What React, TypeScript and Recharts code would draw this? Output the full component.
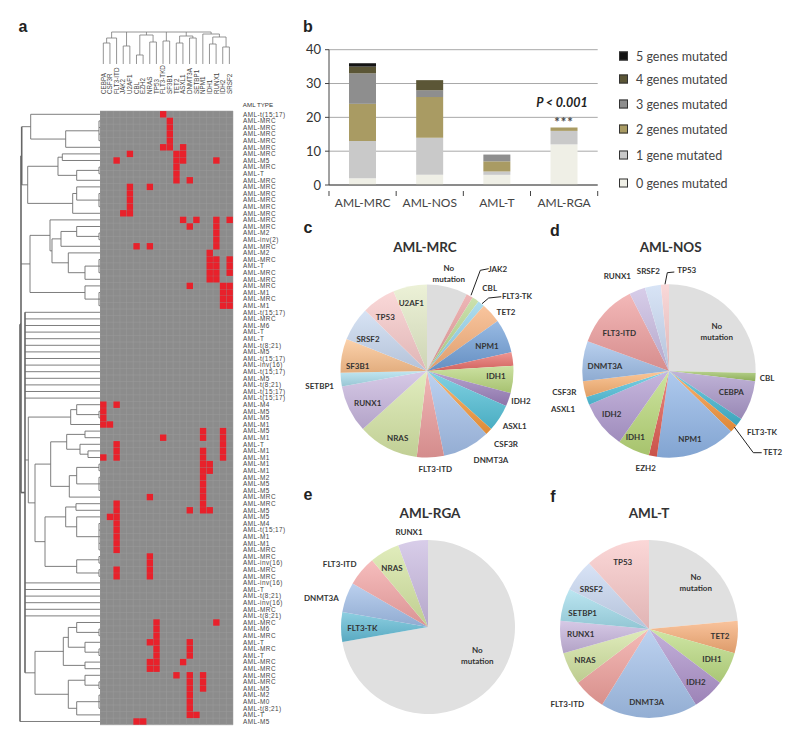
import React from 'react';
import { ScatterChart, Scatter, XAxis, YAxis, ReferenceArea, ReferenceLine, BarChart, Bar, CartesianGrid, Legend, PieChart, Pie, Cell } from 'recharts';

// ---------- panel a data ----------
const genes = ['CEBPA','CSF3R','FLT3-ITD','JAK2','U2AF1','CBL','EZH2','NRAS','TP53','FLT3-TKD','SF3B1','TET2','ASXL1','DNMT3A','SETBP1','NPM1','IDH1','RUNX1','IDH2','SRSF2'];
const mutatedRows = [
  [44,45,46,47,52],
  [47,61],
  [7,44,50,51,52,59,60,61,62,63,64,65,66,69,70],
  [15],
  [6,11,12,13,14,15],
  [20,92],
  [92],
  [11,20,58,67,68,69,70,80,83,84],
  [77,78,79,80,81,82,83,84],
  [0,5,49],
  [1,2,3,4,5],
  [6,7,8,9,10,85],
  [5,6,7,16,83],
  [10,17,26,60,80,81,82,85,86,87,88,89,90,91],
  [16,91],
  [48,49,51,52,53,54,55,56,57,58,59,60,85,86,87],
  [21,22,23,24,25,53,54,60],
  [7,16,17,18,19,20,22,23,24,25,77],
  [26,27,28,29,48,49,50,51,52],
  [16,22,23,24,26,27,28,29],
];
const rowTypes = ['t(15;17)','MRC','MRC','MRC','MRC','MRC','MRC','M5','MRC','T','MRC','MRC','MRC','MRC','MRC','MRC','MRC','MRC','M2','inv(2)','MRC','M2','MRC','T','MRC','MRC','MRC','M1','MRC','M1','t(15;17)','MRC','M6','T','T','t(8;21)','M5','t(15;17)','inv(16)','t(15;17)','M5','t(8;21)','t(15;17)','t(15;17)','M4','M5','M5','M1','M5','M1','T','M1','M1','M1','M1','M2','M5','M5','MRC','MRC','M5','M5','M4','t(15;17)','M1','M1','MRC','MRC','inv(16)','MRC','MRC','inv(16)','T','t(8;21)','inv(16)','MRC','t(8;21)','MRC','M6','MRC','T','MRC','T','MRC','MRC','MRC','MRC','M5','M2','M0','t(8;21)','T','M5'];

// Dendrograms: [merge height, ...children]; a bare number is a leaf index.
const leftAB = [21.7, [30.7, 0, [65.7, [99,1,2,3,4], 5]], [27.7, [58,[62.3,6,7],[76.7,[99,8,9],10]], [72.7,[76.7,11,[99,12,13,14]],15]]];
const leftC = [30, [50, 16, [52, [61,[76.7,17,[99,18,19]],20], [68.3,21,[85,[99,22,23,24],25]]]], [85,26,[99,27,28,29]]];
const leftD = [28.3, [70.7,[76.7,44,[99,45,46]],47], [35,[50.7,[66.7,[85,48,49],[80,50,[88,51,52]]],[69.3,[76.7,[99,53,54],[99,55,56,57]],58]],[45,[65.7,[76,59,60],[76.7,61,[99,62,63,64,65,66]]],[76.7,[99,67,68],[99,69,70]]]]];
const leftE = [35,[63.3,[68.3,[76.7,77,[99,78,79]],[85,80,[99,81,82]]],[85,83,84]],[68.3,[85,85,[99,86,87]],[76.7,[99,88,89,90],91]]];
const leftP = [25,30,31,32,33,34,35,36,37,38,39,40,41,42,43,leftD,71,72,73,74,75,76,leftE];
const leftTree = [20, [21, leftAB, leftC, leftP], 92];
const topTree = [32, [26,[21,0,1],2], [18,3,4], [29,[9,5,6],[22,7,8]], [23,9,10], [28,[21,11,12],[26,13,14]], [30,15,[27,[20,16,17],[17,18,19]]]];

function treeSegments(root: any, leafHeight: number) {
  const segs: any[] = [];
  const walk = (n: any): { pos: number; h: number } => {
    if (typeof n === 'number') return { pos: n + 0.5, h: leafHeight };
    const h = n[0];
    const kids = n.slice(1).map(walk);
    kids.forEach((k: any) => segs.push({ h1: h, p1: k.pos, h2: k.h, p2: k.pos }));
    const a = kids[0].pos, b = kids[kids.length - 1].pos;
    segs.push({ h1: h, p1: a, h2: h, p2: b });
    return { pos: (a + b) / 2, h };
  };
  walk(root);
  return segs;
}
const leftSegs = treeSegments(leftTree, 100);
const topSegs = treeSegments(topTree, 0);

const cells = mutatedRows.flatMap((rows, c) => rows.map((r) => ({ x: c + 0.5, y: r + 0.5, gene: genes[c] })));
const colTicks = genes.map((_, i) => i + 0.5);
const rowTicks = rowTypes.map((_, i) => i + 0.5);
const colEdges = Array.from({ length: genes.length + 1 }, (_, i) => i);
const rowEdges = Array.from({ length: rowTypes.length + 1 }, (_, i) => i);

// ---------- panel b data ----------
const barCategories = ['AML-MRC','AML-NOS','AML-T','AML-RGA'];
const genes0 = [2,3,3,12];
const genes1 = [11,11,1,4];
const genes2 = [11,12,3,1];
const genes3 = [9,2,2,0];
const genes4 = [2,3,0,0];
const genes5 = [1,0,0,0];
const barData = barCategories.map((name, i) => ({ name, g0: genes0[i], g1: genes1[i], g2: genes2[i], g3: genes3[i], g4: genes4[i], g5: genes5[i] }));
const stackNames = ['0 genes mutated','1 gene mutated','2 genes mutated','3 genes mutated','4 genes mutated','5 genes mutated'];
const stackColors = ['#efefe6','#c9c9c9','#a99b63','#8e8e8e','#5b5636','#141414'];
const legendTops = [56,79,104,129,155,183];

// ---------- pies ----------
const mrcNames = ['No\nmutation','JAK2','CBL','FLT3-TK','TET2','NPM1','EZH2','IDH1','IDH2','ASXL1','CSF3R','DNMT3A','FLT3-ITD','NRAS','RUNX1','SETBP1','SF3B1','SRSF2','TP53','U2AF1'];
const mrcValues = [6,1,1,1,3,5,2,4,2,4,1,7,4,9,7,2,5,5,5,5];
const nosNames = ['No\nmutation','CBL','CEBPA','FLT3-TK','TET2','NPM1','EZH2','IDH1','IDH2','ASXL1','CSF3R','DNMT3A','FLT3-ITD','RUNX1','SRSF2','TP53'];
const nosValues = [17,1,5,1,1,10,1,4,6,1,2,5,8,2,2,1];
const rgaNames = ['No\nmutation','FLT3-TK','DNMT3A','FLT3-ITD','NRAS','RUNX1'];
const rgaValues = [13,1,1,1,1,1];
const tNames = ['No\nmutation','TET2','IDH1','IDH2','DNMT3A','FLT3-ITD','NRAS','RUNX1','SETBP1','SRSF2','TP53'];
const tValues = [4,1,1,1,3,1,1,1,1,1,2];

const mrcColors = ['#dddddd','#e79b9b','#b7d68d','#8fd0e8','#f6ae78','#709fd8','#e86d68','#b8d67c','#9b80bc','#52c0d8','#f79a3c','#a4c0ea','#eb9b9b','#d6e6a6','#c7b5de','#a9dcec','#fbc08c','#c8d8f0','#f8c9c9','#e4ecc8'];
const nosColors = ['#dfdfdf','#9cc062','#a997c9','#42b6d0','#f7963c','#90b6e8','#e05b51','#b9d979','#b19bd1','#52c1dc','#f9b171','#9ebee8','#ee9d9d','#c8b9e0','#c9d9f2','#f7c9c9'];
const rgaColors = ['#e0e0e0','#62bcd6','#a0bee8','#f2a3a3','#d4e5a0','#c9b9e0'];
const tColors = ['#e0e0e0','#f6ac76','#bcdc82','#ad92cb','#a3c1ea','#f0a09c','#d2e3a0','#c6b4dc','#a2dcec','#c9d8f2','#f9c8c8'];

// Label placement relative to each pie's centre, in pixels.
const mrcLabelOffsets: any = { 'No\nmutation':[21.7,-98], JAK2:[70.7,-102], CBL:[62.7,-83], 'FLT3-TK':[90,-75], TET2:[79,-58.7], NPM1:[60,-24.7], IDH1:[69,5.3], IDH2:[94,30.3], ASXL1:[87.7,55], CSF3R:[79,72.7], DNMT3A:[64,88.7], 'FLT3-ITD':[8.3,98.3], NRAS:[-29.3,67], RUNX1:[-59.3,31.7], SETBP1:[-107.3,15], SF3B1:[-69.3,-5.3], SRSF2:[-59,-31.7], TP53:[-41.7,-54.3], U2AF1:[-15.7,-67.7] };
const mrcLeaders: any = { JAK2:[[44,-75.7],[53.3,-100.7],[61.7,-102.3]], 'FLT3-TK':[[55,-67.3],[61.7,-73],[74.3,-74.3]] };
const nosLabelOffsets: any = { 'No\nmutation':[47.7,-39.7], CBL:[98,7.3], CEBPA:[62.3,21], 'FLT3-TK':[93,61], TET2:[103.7,81], NPM1:[21,67.7], EZH2:[-23.3,97], IDH1:[-33.7,66], IDH2:[-57.3,43.3], ASXL1:[-106,38.3], CSF3R:[-104.7,21], DNMT3A:[-64,-5], 'FLT3-ITD':[-49.7,-38.3], RUNX1:[-51.7,-94.7], SRSF2:[-20.7,-99.7], TP53:[17.7,-100.7] };
const nosLeaders: any = { TP53:[[-4,-86.7],[-1.7,-98.3],[5.3,-99]], TET2:[[65.3,56],[84.3,81.7],[92.7,81.7]] };
const rgaLabelOffsets: any = { 'No\nmutation':[49.3,28], 'FLT3-TK':[-65.7,1], DNMT3A:[-106.7,-29.3], 'FLT3-ITD':[-88.3,-62.7], NRAS:[-36,-58.7], RUNX1:[-19,-95] };
const tLabelOffsets: any = { 'No\nmutation':[46.7,-46.3], TET2:[71,6.7], IDH1:[63,30.3], IDH2:[47,53.3], DNMT3A:[-2.3,73], 'FLT3-ITD':[-81.7,75], NRAS:[-64,30.7], RUNX1:[-68.3,5.3], SETBP1:[-66.3,-15.7], SRSF2:[-57.7,-40], TP53:[-26.3,-67.3] };

const CALIBRI = 'Lato, "Open Sans", sans-serif';
const ARIAL = '"Liberation Sans", Arial, sans-serif';

const mix = (hex: string, target: number, t: number) => {
  const v = [1, 3, 5].map((i) => parseInt(hex.slice(i, i + 2), 16));
  return 'rgb(' + v.map((c) => Math.round(c + (target - c) * t)).join(',') + ')';
};

function SliceGradients({ prefix, colors }: any) {
  return (
    <svg width={0} height={0} style={{ position: 'absolute' }}>
      <defs>
        {colors.map((c: string, i: number) => (
          <linearGradient key={i} id={`${prefix}${i}`} x1="0" y1="0" x2="0" y2="1">
            <stop offset="0" stopColor={mix(c, 255, 0.28)} />
            <stop offset="1" stopColor={mix(c, 0, 0.1)} />
          </linearGradient>
        ))}
      </defs>
    </svg>
  );
}

function Txt({ x, y, children, style }: any) {
  return (
    <div style={{ position: 'absolute', left: x, top: y, transform: 'translate(-50%,-50%)', whiteSpace: 'nowrap', lineHeight: 1, ...style }}>
      {children}
    </div>
  );
}

function PiePanel({ id, names, values, colors, offsets, leaders, cx, cy, r }: any) {
  const w = 270, h = 250;
  const data = names.map((name: string, i: number) => ({ name, value: values[i] }));
  const renderLabel = (p: any) => {
    const name = names[p.index];
    const off = offsets[name];
    const lead = leaders && leaders[name];
    if (!off) return <g />;
    const lx = p.cx + off[0], ly = p.cy + off[1];
    const lines = name.split('\n');
    return (
      <g>
        {lead && <polyline points={lead.map((q: number[]) => `${p.cx + q[0]},${p.cy + q[1]}`).join(' ')} fill="none" stroke="#222" strokeWidth={1} />}
        <text x={lx} y={ly - (lines.length - 1) * 5.5} textAnchor="middle" dominantBaseline="central" fontFamily={CALIBRI} fontWeight={700} fontSize={8} fill="#333">
          {lines.map((t: string, i: number) => <tspan key={i} x={lx} dy={i === 0 ? 0 : 11}>{t}</tspan>)}
        </text>
      </g>
    );
  };
  return (
    <div style={{ position: 'absolute', left: cx - w / 2, top: cy - h / 2 }}>
      <SliceGradients prefix={id} colors={colors} />
      <PieChart width={w} height={h} margin={{ top: 0, right: 0, bottom: 0, left: 0 }}>
        <Pie data={data} dataKey="value" nameKey="name" cx={w / 2} cy={h / 2} innerRadius={0} outerRadius={r} startAngle={90} endAngle={-270} stroke="none" paddingAngle={0} isAnimationActive={false} label={renderLabel} labelLine={false}>
          {data.map((_: any, i: number) => <Cell key={i} fill={i === 0 ? colors[0] : `url(#${id}${i})`} />)}
        </Pie>
      </PieChart>
    </div>
  );
}

const BAR_STEP = 67.2;
function BarTick({ x, y, payload, index }: any) {
  return (
    <g>
      <line x1={x - BAR_STEP / 2} x2={x - BAR_STEP / 2} y1={y - 8} y2={y - 3} stroke="#444" />
      {index === barCategories.length - 1 && <line x1={x + BAR_STEP / 2} x2={x + BAR_STEP / 2} y1={y - 8} y2={y - 3} stroke="#444" />}
      <text x={x} y={y + 3} textAnchor="middle" dominantBaseline="central" fontFamily={CALIBRI} fontSize={12} fill="#444">{payload.value}</text>
    </g>
  );
}

function ColTick({ x, y, payload }: any) {
  const ty = y - 9;
  return <text x={x + 2.2} y={ty} transform={`rotate(-90 ${x + 2.2} ${ty})`} fontFamily={ARIAL} fontSize={6.3} fill="#444">{genes[Math.floor(payload.value)]}</text>;
}

function CellShape({ cx, cy }: any) {
  const s = 6.4;
  return <rect x={cx - s / 2} y={cy - s / 2} width={s} height={s} fill="#e8212b" />;
}

function BarLegend({ payload }: any) {
  const items = [...(payload || [])].reverse();
  return (
    <div>
      {items.map((it: any, i: number) => (
        <div key={it.value} style={{ position: 'absolute', left: 319, top: legendTops[i] - 40, transform: 'translateY(-50%)', display: 'flex', alignItems: 'center', whiteSpace: 'nowrap' }}>
          <span style={{ width: 7, height: 7, background: it.color, border: '1px solid #333', display: 'inline-block', marginRight: 8 }} />
          <span style={{ fontFamily: CALIBRI, fontSize: 12.5, color: '#444' }}>{it.value}</span>
        </div>
      ))}
    </div>
  );
}

const NoPoint = () => <g />;

export default function App() {
  return (
    <div style={{ position: 'absolute', left: 0, top: 0, width: 800, height: 737, background: '#fff', overflow: 'hidden' }}>
      {/* panel letters */}
      {[['a',23,27],['b',308,27],['c',308,228],['d',555,231],['e',308,495],['f',553,497]].map(([t,x,y]: any) => (
        <Txt key={t} x={x} y={y} style={{ fontFamily: ARIAL, fontWeight: 700, fontSize: 16, color: '#222' }}>{t}</Txt>
      ))}

      {/* panel a: heat map */}
      <div style={{ position: 'absolute', left: 100, top: 0 }}>
        <ScatterChart width={200} height={737} margin={{ top: 0, right: 0, bottom: 12.2, left: 0 }}>
          <XAxis xAxisId={0} type="number" dataKey="x" orientation="top" height={111} domain={[0, 20]} ticks={colTicks} interval={0} axisLine={false} tickLine={false} tick={<ColTick />} />
          <YAxis yAxisId={0} type="number" dataKey="y" orientation="right" width={67} reversed domain={[0, 93]} ticks={rowTicks} interval={0} axisLine={false} tickLine={false} tickSize={0} tickMargin={10}
            tick={{ fontFamily: ARIAL, fontSize: 6.4, letterSpacing: 0.45, fill: '#444', textAnchor: 'start' }}
            tickFormatter={(v: number) => 'AML-' + rowTypes[Math.floor(v)]} />
          <ReferenceArea x1={0} x2={20} y1={0} y2={93} fill="#8c8c8c" fillOpacity={1} stroke="none" />
          {colEdges.map((c) => <ReferenceLine key={'c' + c} x={c} stroke="#9d9d9d" strokeWidth={0.5} />)}
          {rowEdges.map((r) => <ReferenceLine key={'r' + r} y={r} stroke="#9d9d9d" strokeWidth={0.5} />)}
          <Scatter data={cells} shape={<CellShape />} isAnimationActive={false} />
        </ScatterChart>
      </div>
      <Txt x={258} y={105} style={{ fontFamily: ARIAL, fontSize: 6.2, color: '#333' }}>AML TYPE</Txt>

      {/* panel a: row dendrogram */}
      <div style={{ position: 'absolute', left: 0, top: 111 }}>
        <ScatterChart width={100} height={613.8} margin={{ top: 0, right: 0, bottom: 0, left: 0 }}>
          <XAxis type="number" dataKey="x" hide domain={[0, 100]} />
          <YAxis type="number" dataKey="y" hide reversed domain={[0, 93]} />
          {leftSegs.map((s, i) => (
            <Scatter key={i} data={[{ x: s.h1, y: s.p1 }, { x: s.h2, y: s.p2 }]} shape={<NoPoint />} isAnimationActive={false}
              line={{ stroke: s.h1 <= 25 && s.h2 <= 25 ? '#666666' : '#6f6f6f', strokeWidth: s.h1 <= 25 && s.h2 <= 25 ? 1.6 : 0.9 }} />
          ))}
        </ScatterChart>
      </div>

      {/* panel a: column dendrogram */}
      <div style={{ position: 'absolute', left: 100, top: 24 }}>
        <ScatterChart width={132.7} height={40} margin={{ top: 0, right: 0, bottom: 0, left: 0 }}>
          <XAxis type="number" dataKey="x" hide domain={[0, 20]} />
          <YAxis type="number" dataKey="y" hide domain={[0, 40]} />
          {topSegs.map((s, i) => (
            <Scatter key={i} data={[{ x: s.p1, y: s.h1 }, { x: s.p2, y: s.h2 }]} shape={<NoPoint />} isAnimationActive={false}
              line={{ stroke: '#7a7a7a', strokeWidth: 0.8 }} />
          ))}
        </ScatterChart>
      </div>

      {/* panel b */}
      <div style={{ position: 'absolute', left: 300, top: 40 }}>
        <BarChart width={500} height={175} data={barData} barSize={27} margin={{ top: 9.7, right: 202.3, bottom: 0, left: 0 }}>
          <CartesianGrid horizontal vertical={false} stroke="#a8a8a8" strokeWidth={1} />
          <XAxis dataKey="name" height={30} interval={0} axisLine={{ stroke: '#444' }} tickLine={false} tick={<BarTick />} tickMargin={8} />
          <YAxis width={29} domain={[0, 40]} ticks={[0, 10, 20, 30, 40]} axisLine={{ stroke: '#444' }} tickLine={{ stroke: '#444' }} tickSize={4} tickMargin={4} tick={{ fontFamily: CALIBRI, fontSize: 13, fill: '#333' }} />
          <Legend content={<BarLegend />} wrapperStyle={{ position: 'absolute', left: 0, top: 0, bottom: 'auto', width: 0, height: 0 }} />
          {['g0','g1','g2','g3','g4','g5'].map((k, i) => (
            <Bar key={k} dataKey={k} name={stackNames[i]} stackId="s" fill={stackColors[i]} isAnimationActive={false} />
          ))}
        </BarChart>
      </div>
      <Txt x={562} y={103} style={{ fontFamily: CALIBRI, fontWeight: 700, fontStyle: 'italic', fontSize: 12.5, color: '#222' }}>P &lt; 0.001</Txt>
      <Txt x={564} y={122} style={{ fontFamily: CALIBRI, fontWeight: 700, fontSize: 13, color: '#444', letterSpacing: 1 }}>***</Txt>

      {/* pies */}
      <PiePanel id="mrc" names={mrcNames} values={mrcValues} colors={mrcColors} offsets={mrcLabelOffsets} leaders={mrcLeaders} cx={426.7} cy={370.7} r={86.5} />
      <PiePanel id="nos" names={nosNames} values={nosValues} colors={nosColors} offsets={nosLabelOffsets} leaders={nosLeaders} cx={669} cy={370.7} r={86.7} />
      <PiePanel id="rga" names={rgaNames} values={rgaValues} colors={rgaColors} offsets={rgaLabelOffsets} cx={428.3} cy={627.3} r={87} />
      <PiePanel id="amlt" names={tNames} values={tValues} colors={tColors} offsets={tLabelOffsets} cx={649} cy={629.3} r={89} />

      {[['AML-MRC',425,248],['AML-NOS',670.7,248],['AML-RGA',430,514],['AML-T',649,514]].map(([t,x,y]: any) => (
        <Txt key={t} x={x} y={y} style={{ fontFamily: CALIBRI, fontWeight: 700, fontSize: 13.5, color: '#333' }}>{t}</Txt>
      ))}
    </div>
  );
}
